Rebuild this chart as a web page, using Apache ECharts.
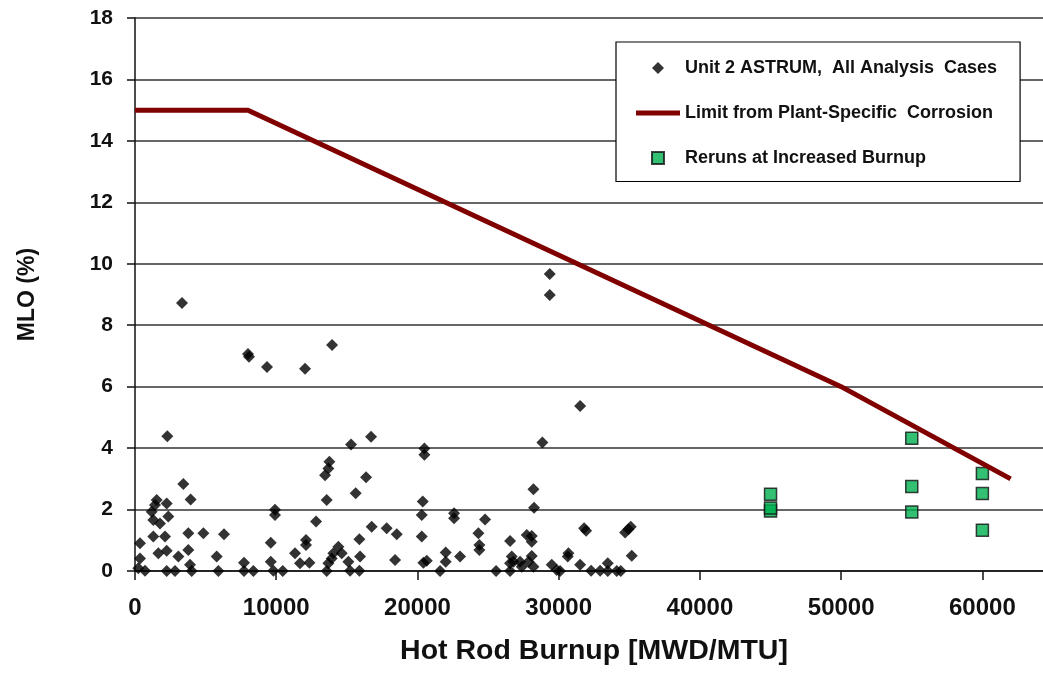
<!DOCTYPE html>
<html><head><meta charset="utf-8">
<script src="https://cdn.jsdelivr.net/npm/echarts@6/dist/echarts.min.js"></script>
<style>html,body{margin:0;padding:0;background:#fff}#c{width:1043px;height:673px}</style>
</head><body><div id="c"></div>
<script>
// Unit 2 ASTRUM, all analysis cases (burnup MWD/MTU, MLO %)
const astrumBurnup = [354,354,236,708,1298,2125,1653,2243,1180,1416,1535,1298,1770,2243,2360,2243,2833,3070,3776,3776,3895,4012,4840,5784,5902,6303,7720,7720,8380,9915,9915,9610,9610,9797,10460,11331,11685,12110,12110,12345,12819,13574,13692,13928,14046,14400,14637,15109,15227,13456,13692,13763,13574,15297,16714,16360,15628,15888,15935,15888,16761,17823,18413,18532,2290,3420,3940,
20490,20490,20374,20303,20303,20420,20657,21600,22000,22000,22592,22592,23017,24313,24386,24386,24788,25567,26558,26558,26676,26794,26558,27266,27385,27738,28092,28092,27856,28092,28210,28210,28258,28846,29509,29863,30099,30642,30690,31516,31799,31941,31516,32295,32932,33474,33474,34112,34395,34703,34939,35104,35175,
3329,8003,8074,9348,12040,13952,29368,29368];
const astrumMLO = [0.90,0.41,0.09,0.01,1.12,1.12,0.58,0.66,1.93,2.15,2.31,1.66,1.55,2.20,1.77,0.00,0.00,0.47,0.68,1.23,0.20,0.00,1.23,0.47,0.00,1.20,0.27,0.00,0.00,1.99,1.82,0.92,0.30,0.01,0.00,0.58,0.25,1.01,0.85,0.27,1.61,0.00,0.25,0.41,0.58,0.79,0.58,0.30,0.01,3.12,3.34,3.56,2.31,4.12,4.37,3.05,2.53,1.03,0.47,0.01,1.44,1.39,0.36,1.20,4.39,2.83,2.33,
3.99,3.78,2.26,1.82,1.12,0.27,0.33,0.00,0.60,0.30,1.88,1.72,0.47,1.23,0.85,0.68,1.68,0.00,0.98,0.25,0.47,0.30,0.00,0.30,0.14,1.17,1.14,0.95,0.30,0.49,0.14,2.66,2.06,4.18,0.20,0.03,0.00,0.47,0.58,5.37,1.39,1.31,0.20,0.01,0.01,0.25,0.00,0.00,0.00,1.25,1.36,1.44,0.50,
8.72,7.06,6.97,6.64,6.58,7.36,9.67,8.98];

// Limit from plant-specific corrosion
const limitBurnup = [0, 8000, 50000, 62000];
const limitMLO = [15, 15, 6, 3];

// Reruns at increased burnup
const rerunBurnup = [45000, 45000, 45000, 55000, 55000, 55000, 60000, 60000, 60000];
const rerunMLO = [1.95, 2.05, 2.5, 1.92, 2.75, 4.32, 1.33, 2.52, 3.17];

const seriesNames = ['Unit 2 ASTRUM,  All Analysis  Cases', 'Limit from Plant-Specific  Corrosion', 'Reruns at Increased Burnup'];
const xTicks = {min: 0, max: 65000, interval: 10000};
const yTicks = {min: 0, max: 18, interval: 2};

const FONT = '"Liberation Sans", Arial, Helvetica, sans-serif';
const pair = (xs, ys) => xs.map((x, i) => [x, ys[i]]);

// legend icons: 44x12 boxes (leading moveTo points fix the bounding box)
const ICON_BOX = 'M0 0 M44 12 ';
const iconDiamond = 'path://' + ICON_BOX + 'M16 6 L22 0 L28 6 L22 12 Z';
const iconLine = 'path://' + ICON_BOX + 'M0 3.5 L44 3.5 L44 8.5 L0 8.5 Z';
const iconSquare = 'path://' + ICON_BOX + 'M16 0 L28 0 L28 12 L16 12 Z';

const chart = echarts.init(document.getElementById('c'), null, {renderer: 'canvas'});
chart.setOption({
  animation: false,
  backgroundColor: '#fff',
  grid: {left: 135, top: 18, width: 918, height: 553, outerBoundsMode: 'none', containLabel: false},
  legend: {
    orient: 'vertical', left: 616, top: 42,
    padding: [17, 23, 14.5, 19], itemGap: 27, itemWidth: 44, itemHeight: 12,
    backgroundColor: '#fff', borderColor: '#000', borderWidth: 1.2, borderRadius: 0,
    textStyle: {fontFamily: FONT, fontSize: 18, fontWeight: 'bold', color: '#111'},
    data: [
      {name: seriesNames[0], icon: iconDiamond},
      {name: seriesNames[1], icon: iconLine},
      {name: seriesNames[2], icon: iconSquare}
    ]
  },
  xAxis: {
    type: 'value', min: xTicks.min, max: xTicks.max, interval: xTicks.interval,
    name: 'Hot Rod Burnup [MWD/MTU]', nameLocation: 'middle', nameGap: 66,
    nameTextStyle: {fontFamily: FONT, fontSize: 28.5, fontWeight: 'bold', color: '#111'},
    axisLine: {show: true, onZero: false, lineStyle: {color: '#111', width: 1.5}},
    axisTick: {show: true, length: 9, lineStyle: {color: '#111', width: 1.5}},
    axisLabel: {fontFamily: FONT, fontSize: 24, fontWeight: 'bold', color: '#111', margin: 25, showMaxLabel: false,
      formatter: v => String(v)},
    splitLine: {show: false}
  },
  yAxis: {
    type: 'value', min: yTicks.min, max: yTicks.max, interval: yTicks.interval,
    name: 'MLO (%)', nameLocation: 'middle', nameGap: 96, nameRotate: 90,
    nameTextStyle: {fontFamily: FONT, fontSize: 23, fontWeight: 'bold', color: '#111'},
    axisLine: {show: true, lineStyle: {color: '#111', width: 1.5}},
    axisTick: {show: true, length: 8, lineStyle: {color: '#111', width: 1.5}},
    axisLabel: {fontFamily: FONT, fontSize: 21, fontWeight: 'bold', color: '#111', margin: 22},
    splitLine: {show: true, lineStyle: {color: '#333', width: 1.5}}
  },
  series: [
    {name: seriesNames[0], type: 'scatter', symbol: 'diamond', symbolSize: 12,
     itemStyle: {color: '#000'}, data: pair(astrumBurnup, astrumMLO)},
    {name: seriesNames[1], type: 'line', symbol: 'none', showSymbol: false, lineStyle: {color: '#800000', width: 5},
     itemStyle: {color: '#800000'}, data: pair(limitBurnup, limitMLO)},
    {name: seriesNames[2], type: 'scatter', symbol: 'rect', symbolSize: 12,
     itemStyle: {color: '#00B050', borderColor: '#111', borderWidth: 1.5}, data: pair(rerunBurnup, rerunMLO)}
  ]
});
</script></body></html>
